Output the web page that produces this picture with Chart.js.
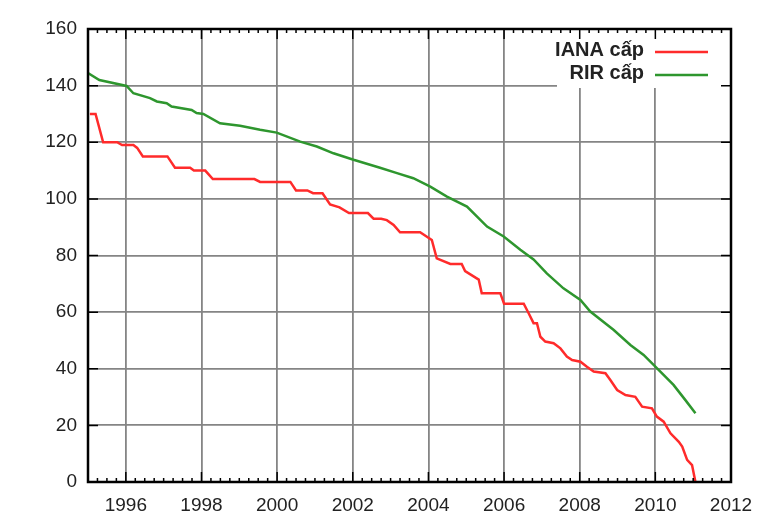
<!DOCTYPE html>
<html>
<head>
<meta charset="utf-8">
<script src="https://cdn.jsdelivr.net/npm/chart.js@4"></script>
<style>
  html, body { margin: 0; padding: 0; background: #fff; }
  #wrap { width: 757px; height: 516px; }
</style>
</head>
<body>
<div id="wrap"><canvas id="chart" width="757" height="516"></canvas></div>
<script>
'use strict';

// IANA cap (red)
const ianaYears = [1995.05, 1995.2, 1995.4, 1995.77, 1995.9, 1996.2, 1996.3, 1996.45, 1997.1, 1997.3,
  1997.7, 1997.8, 1998.1, 1998.3, 1999.4, 1999.55, 2000.35, 2000.5, 2000.8, 2000.95,
  2001.2, 2001.4, 2001.65, 2001.9, 2002.4, 2002.55, 2002.75, 2002.9, 2003.08, 2003.25,
  2003.78, 2004.09, 2004.22, 2004.58, 2004.88, 2004.97, 2005.33, 2005.41, 2005.9, 2006.0,
  2006.52, 2006.65, 2006.78, 2006.87, 2006.96, 2007.09, 2007.31, 2007.49, 2007.66, 2007.8,
  2008.02, 2008.19, 2008.37, 2008.68, 2008.81, 2008.99, 2009.21, 2009.47, 2009.65, 2009.91,
  2010.04, 2010.22, 2010.4, 2010.62, 2010.71, 2010.84, 2010.97, 2011.06];
const ianaValues = [130, 130, 120, 120, 119, 119, 118, 115, 115, 111,
  111, 110, 110, 107, 107, 106, 106, 103, 103, 102,
  102, 98, 97, 95, 95, 93, 93, 92.5, 90.8, 88.2,
  88.2, 85.5, 79, 77, 77, 74.5, 71.5, 66.7, 66.7, 63,
  63, 59.6, 56.1, 56.1, 51.3, 49.6, 49, 47.2, 44.3, 43.1,
  42.5, 40.7, 39, 38.4, 36, 32.5, 30.7, 30.1, 26.6, 26,
  23.1, 21.3, 17.2, 14.2, 12.5, 7.8, 6, 0];

// RIR cap (green)
const rirYears = [1995.0, 1995.3, 1996.02, 1996.2, 1996.64, 1996.82, 1997.08, 1997.21, 1997.74, 1997.87,
  1998.05, 1998.49, 1999.02, 1999.55, 1999.99, 2000.61, 2001.05, 2001.49, 2002.02, 2002.72,
  2003.17, 2003.6, 2004.05, 2004.49, 2005.02, 2005.55, 2005.99, 2006.43, 2006.78, 2007.13,
  2007.57, 2008.02, 2008.28, 2008.9, 2009.34, 2009.69, 2010.04, 2010.48, 2010.79, 2011.06];
const rirValues = [144.4, 142, 139.9, 137.3, 135.6, 134.4, 133.8, 132.6, 131.4, 130.3,
  130, 126.7, 125.8, 124.4, 123.4, 120.2, 118.5, 116.1, 113.8, 111,
  109.1, 107.3, 104.3, 100.8, 97.3, 90.2, 86.7, 82, 78.6, 73.7,
  68.4, 64.3, 60.2, 53.7, 48.4, 44.9, 40.2, 34.3, 29, 24.3];

const xTicks = [1996, 1998, 2000, 2002, 2004, 2006, 2008, 2010, 2012];
const seriesNames = ['IANA cấp', 'RIR cấp'];
const seriesColors = ['#ff2b2b', '#2e962e'];

function toPoints(xs, ys) {
  return xs.map((x, i) => ({ x: x, y: ys[i] }));
}

// legend box, frame and inward ticks like gnuplot
const framePlugin = {
  id: 'frame',
  beforeDatasetsDraw(chart) {
    const ctx = chart.ctx;
    const a = chart.chartArea;
    ctx.save();
    ctx.fillStyle = '#fff';
    ctx.fillRect(557, a.top, a.right - 557, 59);
    ctx.font = 'bold 20px "Liberation Sans", Arial, sans-serif';
    ctx.fillStyle = '#222';
    ctx.textAlign = 'right';
    ctx.textBaseline = 'alphabetic';
    const rows = [56, 79];
    seriesNames.forEach((name, i) => {
      ctx.fillText(name, 644, rows[i]);
      ctx.strokeStyle = seriesColors[i];
      ctx.lineWidth = 2.5;
      ctx.beginPath();
      ctx.moveTo(655, rows[i] - 4);
      ctx.lineTo(708, rows[i] - 4);
      ctx.stroke();
    });
    ctx.restore();
  },
  afterDraw(chart) {
    const ctx = chart.ctx;
    const a = chart.chartArea;
    const xs = chart.scales.x;
    const ys = chart.scales.y;
    ctx.save();
    ctx.strokeStyle = '#000';
    ctx.lineWidth = 1.5;
    ctx.beginPath();
    for (let v = 1995.25; v < 2012; v += 0.25) {
      const px = xs.getPixelForValue(v);
      const len = (Math.abs(v % 2) < 0.01) ? 10 : 4;
      ctx.moveTo(px, a.bottom); ctx.lineTo(px, a.bottom - len);
      ctx.moveTo(px, a.top); ctx.lineTo(px, a.top + len);
    }
    for (let v = 20; v < 160; v += 20) {
      const py = ys.getPixelForValue(v);
      ctx.moveTo(a.left, py); ctx.lineTo(a.left + 10, py);
      ctx.moveTo(a.right, py); ctx.lineTo(a.right - 10, py);
    }
    ctx.stroke();
    ctx.lineWidth = 2.5;
    ctx.strokeRect(a.left, a.top, a.right - a.left, a.bottom - a.top);
    ctx.restore();
  }
};

let canvasElem = document.getElementById('chart');

let chartConfig = {
  type: 'line',
  data: {
    datasets: [
      {
        label: seriesNames[0],
        data: toPoints(ianaYears, ianaValues),
        borderColor: seriesColors[0],
        borderWidth: 2.5,
        pointRadius: 0,
        tension: 0
      },
      {
        label: seriesNames[1],
        data: toPoints(rirYears, rirValues),
        borderColor: seriesColors[1],
        borderWidth: 2.5,
        pointRadius: 0,
        tension: 0
      }
    ]
  },
  options: {
    responsive: false,
    animation: false,
    layout: { padding: { top: 29, right: 26, left: 0, bottom: 0 } },
    plugins: {
      legend: { display: false },
      tooltip: { enabled: false }
    },
    scales: {
      x: {
        type: 'linear',
        min: 1995,
        max: 2012,
        afterBuildTicks(axis) {
          axis.ticks = xTicks.map(v => ({ value: v }));
        },
        afterFit(axis) {
          axis.height = 34;
          axis.paddingLeft = 0;
          axis.paddingRight = 0;
        },
        grid: { color: '#858585', lineWidth: 1.8, drawTicks: false },
        border: { display: false },
        ticks: {
          padding: 12,
          color: '#222',
          font: { family: '"Liberation Sans", Arial, sans-serif', size: 19 },
          callback: v => String(v)
        }
      },
      y: {
        min: 0,
        max: 160,
        afterFit(axis) { axis.width = 88; },
        grid: { color: '#858585', lineWidth: 1.8, drawTicks: false },
        border: { display: false },
        ticks: {
          stepSize: 20,
          padding: 11,
          color: '#222',
          font: { family: '"Liberation Sans", Arial, sans-serif', size: 19 }
        }
      }
    }
  },
  plugins: [framePlugin]
};

new Chart(canvasElem, chartConfig);
</script>
</body>
</html>
